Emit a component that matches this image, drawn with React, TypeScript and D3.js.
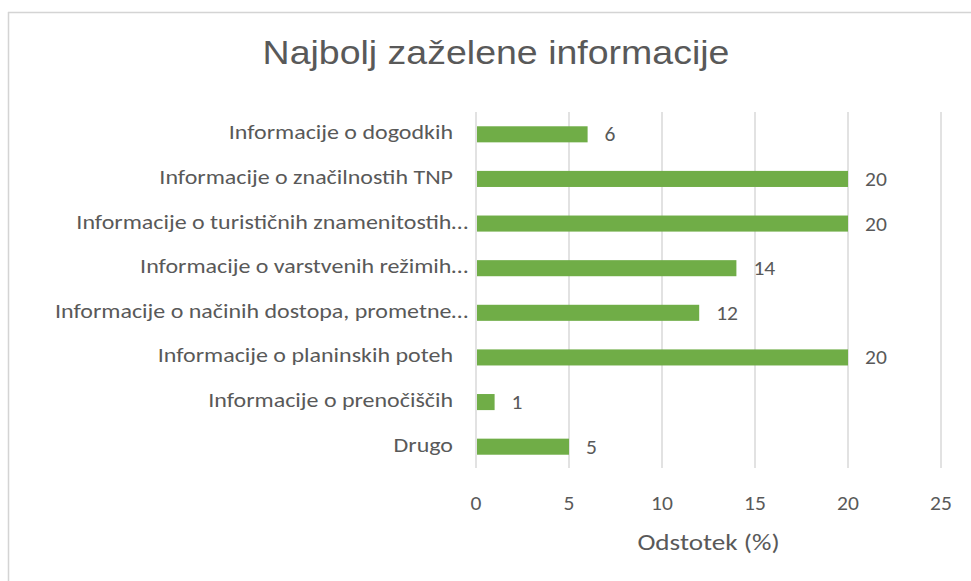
import React from "react";
import * as d3 from "d3";

const categories = [
  "Informacije o dogodkih",
  "Informacije o značilnostih TNP",
  "Informacije o turističnih znamenitostih…",
  "Informacije o varstvenih režimih…",
  "Informacije o načinih dostopa, prometne…",
  "Informacije o planinskih poteh",
  "Informacije o prenočiščih",
  "Drugo",
];
const values = [6, 20, 20, 14, 12, 20, 1, 5];
const xTicks = [0, 5, 10, 15, 20, 25];
const title = "Najbolj zaželene informacije";
const xTitle = "Odstotek (%)";

const W = 971;
const H = 581;
const TEXT = "#595959";
const GRID = "#d9d9d9";
const BAR = "#70AD47";
const LABEL_FONT = "Carlito, Lato, 'Open Sans', sans-serif";

export default function App() {
  const x = d3.scaleLinear().domain([0, 25]).range([476, 941]);
  const y = d3
    .scaleBand<string>()
    .domain(categories)
    .range([112, 469])
    .paddingInner(0.64)
    .paddingOuter(0.32);
  const sx = 1.23;

  return (
    <svg
      width={W}
      height={H}
      style={{ position: "absolute", left: 0, top: 0, background: "#fff" }}
    >
      <rect x={0} y={0} width={W} height={H} fill="#fff" />
      <line x1={8} x2={W} y1={12.5} y2={12.5} stroke="#d4d4d4" strokeWidth={1.5} />
      <line x1={8.5} x2={8.5} y1={12} y2={H} stroke="#d4d4d4" strokeWidth={1.5} />

      <text
        transform={`translate(496,64) scale(1.12,1)`}
        textAnchor="middle"
        fontFamily="'Liberation Sans', Arial, sans-serif"
        fontSize={33.5}
        fill={TEXT}
      >
        {title}
      </text>

      {xTicks.map((t) => (
        <g key={t}>
          <line
            x1={x(t)}
            x2={x(t)}
            y1={112}
            y2={468}
            stroke={GRID}
            strokeWidth={1.5}
          />
          <text
            transform={`translate(${x(t)},510) scale(1.05,1)`}
            textAnchor="middle"
            fontFamily={LABEL_FONT}
            fontSize={20.5}
            fill={TEXT}
          >
            {t}
          </text>
        </g>
      ))}

      {categories.map((c, i) => {
        const cy = (y(c) as number) + y.bandwidth() / 2;
        const truncated = c.endsWith("…");
        return (
          <g key={c}>
            <rect
              x={x(0) + 1}
              y={y(c)}
              width={x(values[i]) - x(0) - 1}
              height={y.bandwidth()}
              fill={BAR}
            />
            <text
              transform={`translate(${truncated ? 468 : 453},${cy + 5}) scale(${sx},1)`}
              textAnchor="end"
              fontFamily={LABEL_FONT}
              fontSize={19.5}
              fill={TEXT}
            >
              {c}
            </text>
            <text
              transform={`translate(${x(values[i]) + 17},${cy + 7}) scale(1.05,1)`}
              textAnchor="start"
              fontFamily={LABEL_FONT}
              fontSize={20.5}
              fill={TEXT}
            >
              {values[i]}
            </text>
          </g>
        );
      })}

      <text
        transform={`translate(${(x(0) + x(25)) / 2},550) scale(1.18,1)`}
        textAnchor="middle"
        fontFamily={LABEL_FONT}
        fontSize={23}
        fill={TEXT}
      >
        {xTitle}
      </text>
    </svg>
  );
}
